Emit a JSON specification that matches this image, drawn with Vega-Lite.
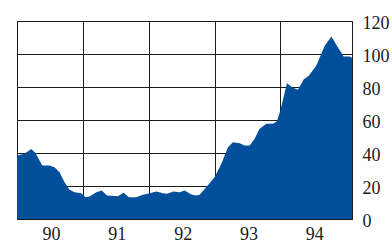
{
  "$schema": "https://vega.github.io/schema/vega-lite/v6.json",
  "width": 335,
  "height": 198,
  "autosize": {"type": "none"},
  "padding": {"left": 17, "top": 21, "right": 40, "bottom": 27},
  "background": "white",
  "config": {
    "view": {"stroke": "#1a1a1a", "strokeWidth": 1},
    "axis": {
      "labelFont": "Liberation Serif",
      "labelFontSize": 18,
      "labelColor": "#1a1a1a",
      "domain": false,
      "ticks": false,
      "grid": true,
      "gridColor": "#1a1a1a",
      "gridOpacity": 1,
      "gridWidth": 1,
      "title": null
    }
  },
  "data": {
    "values": [
      {"year": 1990.0, "value": 38.5},
      {"year": 1990.114, "value": 39.5},
      {"year": 1990.216, "value": 42.5},
      {"year": 1990.281, "value": 40},
      {"year": 1990.383, "value": 32.4},
      {"year": 1990.494, "value": 32.4},
      {"year": 1990.57, "value": 31.4},
      {"year": 1990.646, "value": 28.4},
      {"year": 1990.722, "value": 22.3},
      {"year": 1990.798, "value": 17.7},
      {"year": 1990.874, "value": 16.2},
      {"year": 1990.976, "value": 15.6},
      {"year": 1991.041, "value": 13.2},
      {"year": 1991.102, "value": 13.6},
      {"year": 1991.204, "value": 16.2},
      {"year": 1991.289, "value": 17.3},
      {"year": 1991.365, "value": 14.2},
      {"year": 1991.532, "value": 13.8},
      {"year": 1991.619, "value": 15.9},
      {"year": 1991.699, "value": 13.2},
      {"year": 1991.812, "value": 13.2},
      {"year": 1991.912, "value": 14.7},
      {"year": 1992.014, "value": 15.6},
      {"year": 1992.116, "value": 16.7},
      {"year": 1992.216, "value": 15.6},
      {"year": 1992.277, "value": 15.3},
      {"year": 1992.378, "value": 16.7},
      {"year": 1992.47, "value": 16.2},
      {"year": 1992.546, "value": 17.3},
      {"year": 1992.647, "value": 14.8},
      {"year": 1992.723, "value": 14.2},
      {"year": 1992.774, "value": 14.7},
      {"year": 1992.875, "value": 19.3},
      {"year": 1993.0, "value": 25.3},
      {"year": 1993.103, "value": 33.4},
      {"year": 1993.204, "value": 43.5},
      {"year": 1993.28, "value": 46.5},
      {"year": 1993.381, "value": 45.9},
      {"year": 1993.457, "value": 44.5},
      {"year": 1993.533, "value": 44.5},
      {"year": 1993.609, "value": 48.6},
      {"year": 1993.685, "value": 54.7},
      {"year": 1993.787, "value": 57.7},
      {"year": 1993.888, "value": 57.7},
      {"year": 1993.948, "value": 59.3},
      {"year": 1994.0, "value": 65.8},
      {"year": 1994.1, "value": 82.3},
      {"year": 1994.191, "value": 79.5},
      {"year": 1994.267, "value": 78.3},
      {"year": 1994.354, "value": 84.5},
      {"year": 1994.435, "value": 87},
      {"year": 1994.547, "value": 93},
      {"year": 1994.673, "value": 105},
      {"year": 1994.775, "value": 110.6},
      {"year": 1994.875, "value": 104},
      {"year": 1994.962, "value": 98.5},
      {"year": 1995.053, "value": 98.5},
      {"year": 1995.088, "value": 97.7}
    ]
  },
  "mark": {"type": "area", "color": "#02509C", "interpolate": "linear"},
  "encoding": {
    "x": {
      "field": "year",
      "type": "quantitative",
      "scale": {"domain": [1990, 1995.088], "nice": false, "zero": false},
      "axis": {
        "values": [1990, 1991, 1992, 1993, 1994],
        "labelExpr": "substring(toString(datum.value), 2, 4)",
        "labelOffset": 34,
        "labelPadding": 6,
        "labelAlign": "center",
        "labelBaseline": "top"
      }
    },
    "y": {
      "field": "value",
      "type": "quantitative",
      "scale": {"domain": [0, 120], "nice": false},
      "axis": {
        "orient": "right",
        "values": [0, 20, 40, 60, 80, 100, 120],
        "labelAlign": "left",
        "labelBaseline": "middle",
        "labelPadding": 10,
        "labelOffset": 2
      }
    }
  }
}
